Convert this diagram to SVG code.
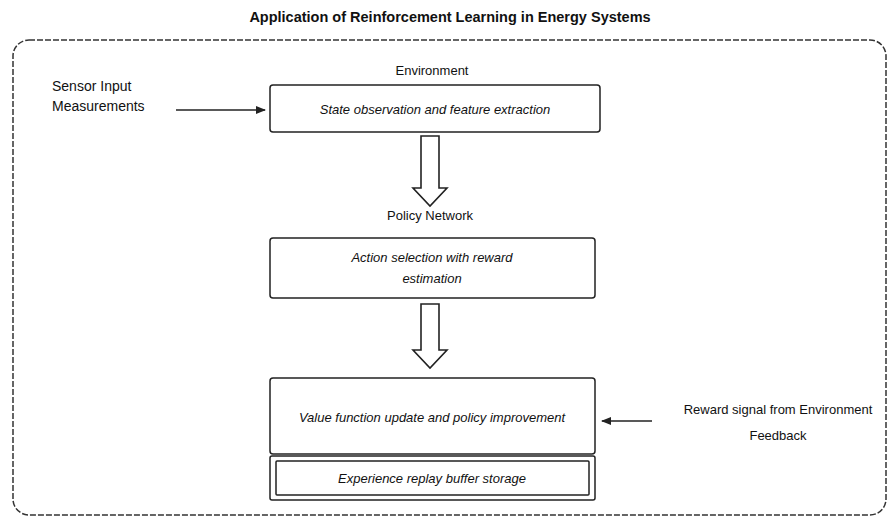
<svg xmlns="http://www.w3.org/2000/svg" width="891" height="520" viewBox="0 0 891 520">
<style>
text{font-family:"Liberation Sans",Arial,sans-serif;fill:#111;}
.t{font-size:13px;text-anchor:middle;font-style:italic;}
.lbl{font-size:13px;text-anchor:middle;}
.box{fill:#fff;stroke:#222;stroke-width:1.5;}
.outer{fill:none;stroke:#333;stroke-width:1.5;stroke-dasharray:6 2;}
.conn{fill:none;stroke:#222;stroke-width:1.5;}
.block{fill:#fff;stroke:#222;stroke-width:1.6;}
</style>
<defs>
<marker id="ah" markerWidth="10" markerHeight="8" refX="9" refY="4" orient="auto" markerUnits="userSpaceOnUse">
<path d="M0,0 L10,4 L0,8 Z" fill="#222"/>
</marker>
</defs>
<text x="450" y="22" style="font-size:14.5px;font-weight:bold;text-anchor:middle">Application of Reinforcement Learning in Energy Systems</text>
<rect class="outer" x="13" y="40" width="873" height="475" rx="16"/>
<g id="connectors">
<line class="conn" x1="176" y1="110" x2="265" y2="110" marker-end="url(#ah)"/>
<line class="conn" x1="652" y1="421" x2="602" y2="421" marker-end="url(#ah)"/>
<path class="block" d="M421,136 L439,136 L439,188 L447,188 L430,206 L413,188 L421,188 Z"/>
<path class="block" d="M421,304 L439,304 L439,350 L447,350 L430,368 L413,350 L421,350 Z"/>
</g>
<g id="input">
<text x="52" y="91" style="font-size:14px">Sensor Input</text>
<text x="52" y="111" style="font-size:14px">Measurements</text>
</g>
<g id="n1">
<text class="t" x="432" y="75" style="font-style:normal">Environment</text>
<rect class="box" x="270" y="85" width="330" height="47" rx="3"/>
<text class="t" x="435" y="114">State observation and feature extraction</text>
</g>
<g id="n2">
<text class="t" x="430" y="220" style="font-style:normal">Policy Network</text>
<rect class="box" x="270" y="238" width="325" height="60" rx="3"/>
<text class="t" x="432" y="262">Action selection with reward</text>
<text class="t" x="432" y="283">estimation</text>
</g>
<g id="n3">
<rect class="box" x="270" y="378" width="325" height="76" rx="3"/>
<text class="t" x="432" y="422">Value function update and policy improvement</text>
</g>
<g id="n4">
<rect class="box" x="270" y="456" width="325" height="44" rx="2"/>
<rect class="box" x="276" y="461" width="313" height="34" rx="1"/>
<text class="t" x="432" y="483">Experience replay buffer storage</text>
</g>
<g id="feedback">
<text class="lbl" x="778" y="414">Reward signal from Environment</text>
<text class="lbl" x="778" y="440">Feedback</text>
</g>
</svg>
